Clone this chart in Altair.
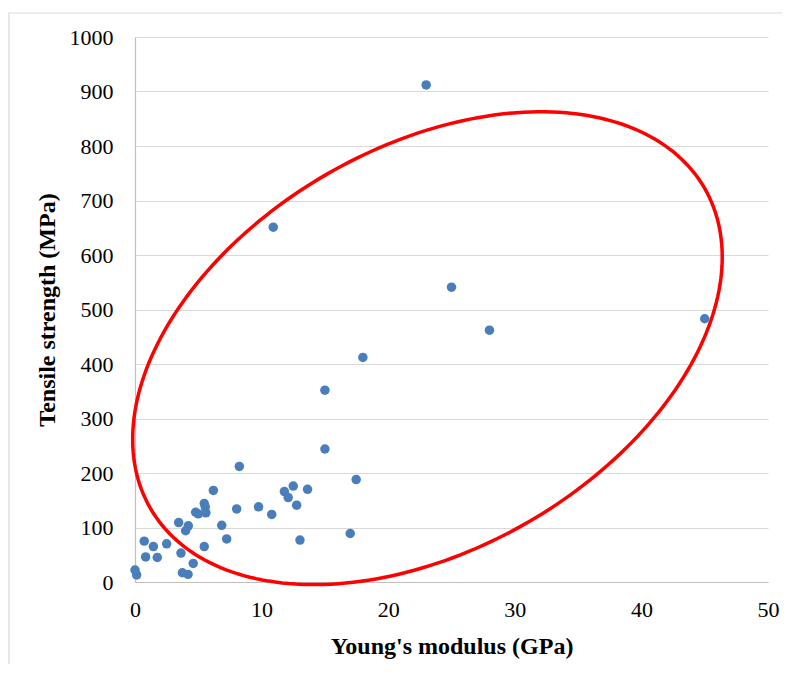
import numpy as np
import pandas as pd
import altair as alt

# Young's modulus (GPa) and tensile strength (MPa)
modulus = [0.0, 0.13, 0.73, 0.84, 1.45, 1.76, 2.5, 3.45, 3.63, 3.74, 4.19, 4.21, 4.0,
           4.6, 4.79, 5.0, 5.47, 5.55, 5.6, 5.47, 6.19, 6.85, 7.24, 8.24, 8.03, 9.76,
           10.8, 11.8, 12.1, 12.5, 12.77, 13.63, 13.03, 15.0, 17.47, 17.0, 10.92,
           25.0, 28.0, 18.0, 15.0, 23.0, 45.0]
strength = [22, 13, 75, 46, 65, 45, 70, 109, 53, 17, 14, 103, 94,
            34, 128, 125, 144, 138, 127, 65, 168, 104, 79, 212, 134, 138,
            124, 166, 155, 176, 141, 170, 77, 244, 188, 89, 651,
            541, 462, 412, 352, 912, 483]

x_ticks = [0, 10, 20, 30, 40, 50]
y_ticks = [0, 100, 200, 300, 400, 500, 600, 700, 800, 900, 1000]

# Annotation ellipse (centre in data units, semi-axes in plot pixels, tilt in degrees)
ell_center = (23.1, 429.0)
ell_axes_px = (320.0, 201.0)
ell_angle = 30.0

W, H = 633, 545
sx = W / 50.0
sy = H / 1000.0

t = np.linspace(0, 2 * np.pi, 241)
th = np.radians(ell_angle)
ex = ell_center[0] + (ell_axes_px[0] * np.cos(t) * np.cos(th) - ell_axes_px[1] * np.sin(t) * np.sin(th)) / sx
ey = ell_center[1] + (ell_axes_px[0] * np.cos(t) * np.sin(th) + ell_axes_px[1] * np.sin(t) * np.cos(th)) / sy
ell_df = pd.DataFrame({"x": ex, "y": ey, "o": np.arange(len(t))})

df = pd.DataFrame({"E": modulus, "S": strength})

FONT = "Liberation Serif"

xscale = alt.Scale(domain=[0, 50], nice=False, zero=False)
yscale = alt.Scale(domain=[0, 1000], nice=False, zero=False)

border = alt.Chart(pd.DataFrame({"a": [0]})).mark_rect(
    fill=None, stroke="#d9d9d9", strokeWidth=1.2
).encode(
    x=alt.value(-126), x2=alt.value(700), y=alt.value(-24), y2=alt.value(680)
)

points = alt.Chart(df).mark_circle(size=90, color="#4a7ebb", opacity=1).encode(
    x=alt.X("E:Q", scale=xscale,
            axis=alt.Axis(title="Young's modulus (GPa)", values=x_ticks, grid=False,
                          format="d", labelFlush=False, labelOverlap=False,
                          ticks=False, domainColor="#bfbfbf", labelFontSize=22,
                          labelPadding=17, titleFontSize=24, titlePadding=14)),
    y=alt.Y("S:Q", scale=yscale,
            axis=alt.Axis(title="Tensile strength (MPa)", values=y_ticks, grid=True,
                          format="d", labelFlush=False, labelOverlap=False,
                          gridColor="#d9d9d9", ticks=False, domainColor="#bfbfbf",
                          labelFontSize=22, labelPadding=22, titleFontSize=24,
                          titlePadding=10)),
)

ellipse = alt.Chart(ell_df).mark_line(color="#ff0000", strokeWidth=3.5).encode(
    x=alt.X("x:Q", scale=xscale),
    y=alt.Y("y:Q", scale=yscale),
    order="o:Q",
)

chart = alt.layer(border, points, ellipse).properties(
    width=W, height=H,
    autosize=alt.AutoSizeParams(type="none"),
    padding={"left": 127, "top": 29, "right": 14, "bottom": 82},
).configure_view(stroke=None).configure_axis(
    labelFont=FONT, titleFont=FONT, labelColor="#000000", titleColor="#000000",
    titleFontWeight="bold", domainWidth=1.2
)

chart.save("out.html", embed_options={"renderer": "svg", "actions": False})
